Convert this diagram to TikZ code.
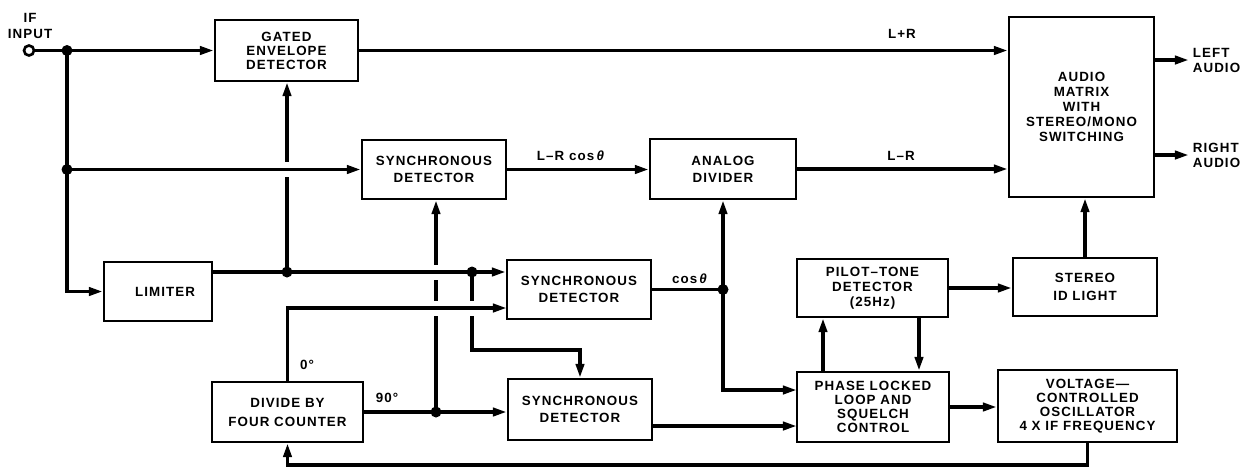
\documentclass[tikz,border=0pt]{standalone}
\usepackage{fontspec}
\newfontfamily\diag[LetterSpace=8]{Liberation Sans}
\newcommand\dfont[1]{\diag\bfseries\fontsize{7.6pt}{#1pt}\selectfont}
\usetikzlibrary{arrows.meta,calc}
\tikzset{
  box/.style={draw, line width=1.2pt, align=center, inner sep=1pt, font=\dfont{9}},
  wire/.style={line width=2pt},
  arr/.style={wire, -{Triangle[length=8pt,width=4.6pt]}},
  dot/.style={circle, fill, inner sep=0pt, minimum size=0.22cm},
  txt/.style={font=\dfont{9}, inner sep=0pt, align=center},
}
\begin{document}
\begin{tikzpicture}[x=0.02cm,y=-0.02cm]
\path[use as bounding box, fill=white] (0,0) rectangle (1253,468);

% boxes
\node[box, minimum width=2.86cm, minimum height=1.22cm, font=\dfont{8}] (ged) at (286.5,50.5) {GATED\\ENVELOPE\\DETECTOR};
\node[box, minimum width=2.88cm, minimum height=1.18cm, font=\dfont{10}] (sd1) at (434,169.5) {SYNCHRONOUS\\DETECTOR};
\node[box, minimum width=2.92cm, minimum height=1.2cm, font=\dfont{9.8}] (ad) at (723,169) {ANALOG\\DIVIDER};
\node[box, minimum width=2.9cm, minimum height=3.6cm, font=\dfont{8.5}] (am) at (1081.5,107) {AUDIO\\MATRIX\\WITH\\STEREO/MONO\\SWITCHING};
\node[box, minimum width=2.16cm, minimum height=1.18cm] (lim) at (158,291.5) {\hspace*{0.28cm}LIMITER};
\node[box, minimum width=2.88cm, minimum height=1.18cm, font=\dfont{10}] (sd2) at (579,289.5) {SYNCHRONOUS\\DETECTOR};
\node[box, minimum width=3.02cm, minimum height=1.16cm, font=\dfont{8.5}] (pt) at (872.5,288) {PILOT–TONE\\DETECTOR\\(25Hz)};
\node[box, minimum width=2.88cm, minimum height=1.16cm, font=\dfont{9.8}] (sid) at (1085,287) {STEREO\\ID LIGHT};
\node[box, minimum width=3.02cm, minimum height=1.2cm, font=\dfont{10.8}] (dfc) at (287.5,412) {DIVIDE BY\\FOUR COUNTER};
\node[box, minimum width=2.88cm, minimum height=1.22cm, font=\dfont{10}] (sd3) at (580,409.5) {SYNCHRONOUS\\DETECTOR};
\node[box, minimum width=3.04cm, minimum height=1.4cm, font=\dfont{8}] (pll) at (873,407) {PHASE LOCKED\\LOOP AND\\SQUELCH\\CONTROL};
\node[box, minimum width=3.58cm, minimum height=1.44cm, font=\dfont{8}] (vco) at (1087.5,406) {VOLTAGE—\\CONTROLLED\\OSCILLATOR\\4 X IF FREQUENCY};

% input terminal and labels
\node[circle, draw, line width=1.5pt, inner sep=0pt, minimum size=0.2cm] (in) at (29,50.5) {};
\node[txt] (ifl) at (30,26) {IF\\INPUT};
\node[txt] (lpr) at (902,34) {L+R};
\node[txt] (lmr) at (901,156) {L–R};
\node[txt] (lrc) at (571,156) {L–R cos\,\textit{θ}};
\node[txt] (cth) at (690,279) {cos\,\textit{θ}};
\node[txt] (z0) at (307,365) {0°};
\node[txt] (z90) at (387,398) {90°};
\node[txt, anchor=west, align=left, inner xsep=2pt, font=\dfont{8.5}] (lout) at (1189,60) {LEFT\\AUDIO};
\node[txt, anchor=west, align=left, inner xsep=2pt, font=\dfont{8.5}] (rout) at (1189,155) {RIGHT\\AUDIO};

% junctions
\coordinate (j1) at (67,50.5);
\coordinate (j2) at (67,169.5);
\coordinate (j4) at (287,272);
\coordinate (j5) at (472,272);
\coordinate (j6) at (436,412);
\coordinate (j7) at (723,289.5);
\coordinate (k0) at (507,308);
\coordinate (k1) at (472,350);
\coordinate (p1) at (797,390);
\coordinate (p2) at (797,426);
\coordinate (u1) at (823,0);
\coordinate (u2) at (919,0);
\coordinate (fb) at (0,465);

% vertical wires that pass under crossings
\draw[arr] (j4) -- (j4 |- ged.south);
\draw[arr] (j6) -- (j6 |- sd1.south);
\draw[arr] (j5) -- (k1) -| (sd3.north);

% crossing gaps
\fill[white] (j4 |- j2) ++(-4,-7.5) rectangle ++(8,15);
\fill[white] (j6 |- j5) ++(-4,-7.5) rectangle ++(8,15);
\fill[white] (j6 |- k0) ++(-4,-7.5) rectangle ++(8,15);
\fill[white] (j5 |- k0) ++(-4,-7.5) rectangle ++(8,15);

% other wires
\draw[wire] (in) -- (j1);
\draw[arr] (j1) -- (ged.west);
\draw[arr] (j1) |- (lim.west);
\draw[arr] (j2) -- (sd1.west);
\draw[arr] (lim.east |- j4) -- (sd2.west |- j4);
\draw[arr] (dfc.north) |- (k0);
\draw[arr] (dfc.east) -- (sd3.west |- dfc.east);
\draw[arr] (sd1.east) -- (ad.west |- sd1.east);
\draw[arr] (ged.east) -- (ged.east -| am.west);
\draw[arr] (ad.east) -- (ad.east -| am.west);
\draw[arr] (am.east |- lout.west) -- (lout.west);
\draw[arr] (am.east |- rout.west) -- (rout.west);
\draw[arr] (sid.north) -- (sid.north |- am.south);
\draw[arr] (pt.east) -- (pt.east -| sid.west);
\draw[wire] (sd2.east) -- (j7);
\draw[arr] (j7) -- (ad.south);
\draw[arr] (j7) |- (p1);
\draw[arr] (sd3.east |- p2) -- (p2);
\draw[arr] (pll.north -| u1) -- (pt.south -| u1);
\draw[arr] (pt.south -| u2) -- (pll.north -| u2);
\draw[arr] (pll.east) -- (pll.east -| vco.west);
\draw[arr] (vco.south) -- (vco.south |- fb) -| (dfc.south);

% dots
\node[dot] (d1) at (j1) {};
\node[dot] (d2) at (j2) {};
\node[dot] (d4) at (j4) {};
\node[dot] (d5) at (j5) {};
\node[dot] (d6) at (j6) {};
\node[dot] (d7) at (j7) {};
\end{tikzpicture}
\end{document}
